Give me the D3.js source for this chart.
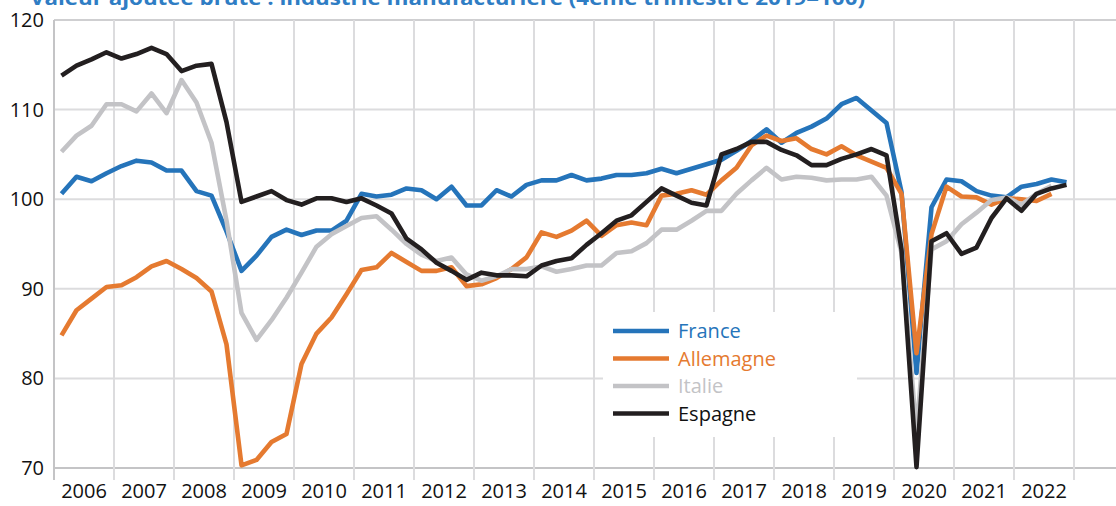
<!DOCTYPE html>
<html>
<head>
<meta charset="utf-8">
<script src="https://cdn.jsdelivr.net/npm/d3@7"></script>
<style>
  body { margin: 0; background: #fff; }
  #chart { width: 1116px; height: 506px; }
  text { font-family: "Open Sans", "Liberation Sans", sans-serif; }
</style>
</head>
<body>
<div id="chart"></div>
<script>
// Valeur ajoutée brute, industrie manufacturière (base 100 = T4 2019), trimestriel 2006T1 -> 2022
const years = [2006, 2007, 2008, 2009, 2010, 2011, 2012, 2013, 2014, 2015, 2016, 2017, 2018, 2019, 2020, 2021, 2022];
const yTicks = [70, 80, 90, 100, 110, 120];

const france = [100.6, 102.5, 102.0, 102.9, 103.7, 104.3, 104.1, 103.2, 103.2, 100.9, 100.4, 96.4,
  92.0, 93.7, 95.8, 96.6, 96.0, 96.5, 96.5, 97.6, 100.6, 100.3, 100.5, 101.2,
  101.0, 100.0, 101.4, 99.3, 99.3, 101.0, 100.3, 101.6, 102.1, 102.1, 102.7, 102.1,
  102.3, 102.7, 102.7, 102.9, 103.4, 102.9, 103.4, 103.9, 104.4, 105.4, 106.5, 107.8,
  106.3, 107.4, 108.1, 109.0, 110.6, 111.3, 109.9, 108.5, 100.8, 80.6, 99.1, 102.2,
  102.0, 100.9, 100.4, 100.2, 101.4, 101.7, 102.2, 101.9];

const allemagne = [84.8, 87.6, 88.9, 90.2, 90.4, 91.3, 92.5, 93.1, 92.2, 91.2, 89.7, 83.8,
  70.3, 70.9, 72.9, 73.8, 81.6, 85.0, 86.8, 89.4, 92.1, 92.4, 94.0, 93.0,
  92.0, 92.0, 92.4, 90.3, 90.5, 91.2, 92.2, 93.5, 96.3, 95.8, 96.5, 97.6,
  95.9, 97.1, 97.4, 97.1, 100.4, 100.6, 101.0, 100.5, 102.1, 103.5, 106.0, 107.1,
  106.5, 106.8, 105.6, 105.0, 105.9, 104.9, 104.2, 103.5, 100.6, 82.8, 96.1, 101.4,
  100.3, 100.2, 99.4, 100.1, 100.0, 99.8, 100.6];

const italie = [105.3, 107.1, 108.2, 110.6, 110.6, 109.8, 111.8, 109.6, 113.3, 110.8, 106.3, 97.6,
  87.3, 84.3, 86.5, 89.0, 91.8, 94.7, 96.1, 97.0, 97.9, 98.1, 96.6, 95.0,
  93.8, 93.1, 93.5, 91.6, 90.9, 91.4, 92.2, 92.2, 92.5, 91.9, 92.2, 92.6,
  92.6, 94.0, 94.2, 95.1, 96.6, 96.6, 97.6, 98.7, 98.7, 100.6, 102.1, 103.5,
  102.2, 102.5, 102.4, 102.1, 102.2, 102.2, 102.5, 100.4, 94.0, 74.0, 94.4, 95.3,
  97.2, 98.5, 99.9, 100.2, 99.4, 100.6, 101.5];

const espagne = [113.8, 114.9, 115.6, 116.4, 115.7, 116.2, 116.9, 116.2, 114.3, 114.9, 115.1, 108.6,
  99.7, 100.3, 100.9, 99.9, 99.4, 100.1, 100.1, 99.7, 100.1, 99.3, 98.4, 95.6,
  94.4, 92.9, 92.0, 91.0, 91.8, 91.5, 91.5, 91.4, 92.6, 93.1, 93.4, 94.9,
  96.2, 97.6, 98.2, 99.7, 101.2, 100.4, 99.6, 99.3, 105.0, 105.6, 106.4, 106.4,
  105.5, 104.9, 103.8, 103.8, 104.5, 105.0, 105.6, 104.9, 94.4, 70.1, 95.3, 96.2,
  93.9, 94.6, 97.9, 100.1, 98.7, 100.6, 101.2, 101.6];

const seriesNames = ["France", "Allemagne", "Italie", "Espagne"];
const seriesValues = [france, allemagne, italie, espagne];
const seriesColors = ["#2574ba", "#e57a30", "#c3c3c6", "#231f20"];
const legendTextColors = ["#2574ba", "#e57a30", "#c3c3c6", "#111111"];

const W = 1116, H = 506;
const margin = { left: 54, right: 1074, top: 20, bottom: 468 };

const svg = d3.select("#chart").append("svg")
    .attr("width", W)
    .attr("height", H);

// quarters as categories
const quarters = years.flatMap(yr => [1, 2, 3, 4].map(q => `${yr}T${q}`));
const x = d3.scaleBand().domain(quarters).range([margin.left, margin.right]);
const xYear = d3.scaleBand().domain(years).range([margin.left, margin.right]);
const y = d3.scaleLinear().domain([70, 120]).range([margin.bottom, margin.top]);

// horizontal gridlines (run past the last year, the image is cropped)
svg.append("g")
    .selectAll("line")
    .data(yTicks)
    .enter().append("line")
    .attr("x1", margin.left).attr("x2", W)
    .attr("y1", d => y(d)).attr("y2", d => y(d))
    .attr("stroke", d => d === 70 ? "#c4c4c6" : (d === 120 ? "#cfcfd1" : "#dcdcde"))
    .attr("stroke-width", d => d === 70 ? 2.2 : 2);

// vertical gridlines at year boundaries + tick marks under the axis
const bounds = years.map(d => xYear(d)).concat([margin.right]);
svg.append("g")
    .selectAll("line")
    .data(bounds)
    .enter().append("line")
    .attr("x1", d => d).attr("x2", d => d)
    .attr("y1", margin.top).attr("y2", margin.bottom + 12)
    .attr("stroke", (d, i) => i === 0 ? "#c4c4c6" : "#dcdcde")
    .attr("stroke-width", 2);

// y labels
const yAxis = svg.append("g")
    .attr("transform", `translate(${margin.left - 10},0)`)
    .call(d3.axisLeft(y).tickValues(yTicks).tickSize(0).tickPadding(0));
yAxis.select(".domain").remove();
yAxis.selectAll("text")
    .style("font-size", "20px")
    .style("fill", "#111")
    .attr("font-family", null);

// x labels
const xAxis = svg.append("g")
    .attr("transform", `translate(0,${margin.bottom})`)
    .call(d3.axisBottom(xYear).tickSize(0).tickPadding(16));
xAxis.select(".domain").remove();
xAxis.selectAll("text")
    .style("font-size", "20px")
    .style("fill", "#111")
    .attr("font-family", null);

// legend box hides the gridlines behind it
svg.append("rect")
    .attr("x", 603).attr("y", 312)
    .attr("width", 254).attr("height", 125)
    .attr("fill", "#fff");

// lines
const line = d3.line()
    .x((d, i) => x(quarters[i]) + x.bandwidth() / 2)
    .y(d => y(d))
    .curve(d3.curveLinear);

svg.append("g")
    .selectAll("path")
    .data(seriesValues)
    .enter().append("path")
    .attr("d", line)
    .attr("fill", "none")
    .attr("stroke", (d, i) => seriesColors[i])
    .attr("stroke-width", 4.6)
    .attr("stroke-linejoin", "round");

// legend
const leg = svg.append("g").attr("transform", "translate(613,331)");
seriesNames.forEach((name, i) => {
    const g = leg.append("g").attr("transform", `translate(0,${i * 27.5})`);
    g.append("line")
        .attr("x1", 0).attr("x2", 56)
        .attr("y1", 0).attr("y2", 0)
        .attr("stroke", seriesColors[i])
        .attr("stroke-width", 4.6);
    g.append("text")
        .attr("x", 65)
        .attr("y", 0)
        .attr("dy", "0.35em")
        .style("font-size", "20px")
        .style("fill", legendTextColors[i])
        .text(name);
});

// title, clipped by the top of the picture
svg.append("text")
    .attr("x", 30)
    .attr("y", 5)
    .attr("textLength", 835)
    .attr("lengthAdjust", "spacingAndGlyphs")
    .style("font-size", "20px")
    .style("font-weight", "bold")
    .style("fill", "#2f7dc4")
    .text("Valeur ajoutée brute : industrie manufacturière (4ème trimestre 2019=100)");
</script>
</body>
</html>
